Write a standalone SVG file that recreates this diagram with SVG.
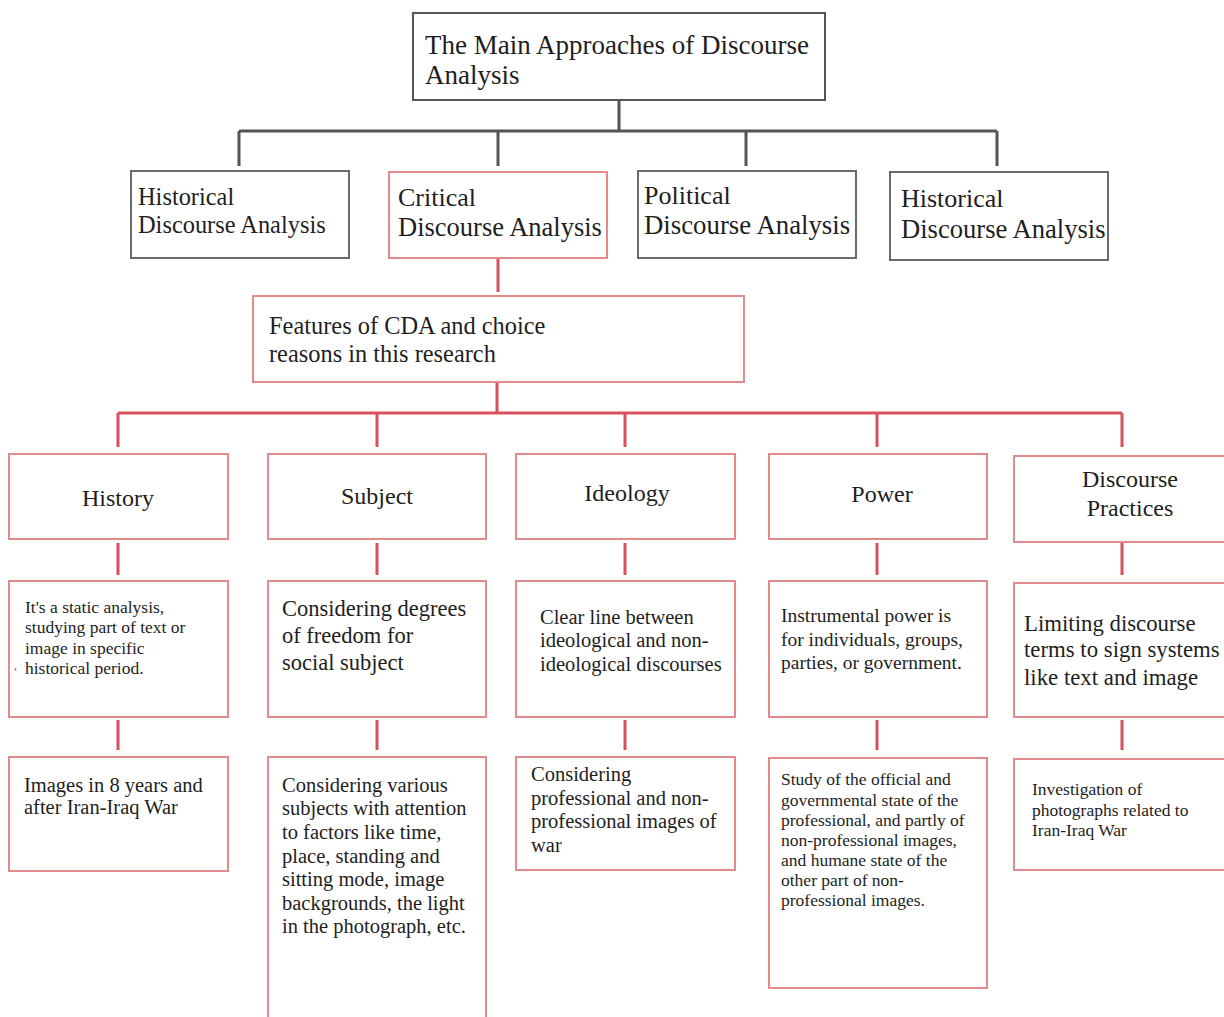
<svg xmlns="http://www.w3.org/2000/svg" width="1224" height="1017" viewBox="0 0 1224 1017" font-family="Liberation Serif, Times New Roman, serif">
<style>
text{fill:#1e1e1e}
.g{fill:#fff;stroke:#6a6a6a;stroke-width:2}
.r{fill:#fff;stroke:#e38a8d;stroke-width:2}
.cg{stroke:#555;stroke-width:3;fill:none}
.cr{stroke:#d9505c;stroke-width:3;fill:none}
.c{text-anchor:middle}
</style>
<rect width="1224" height="1017" fill="#fff"/>
<g id="connectors">
<path class="cg" d="M619 100V131M239 131H997M239 131V166M498 131V166M746 131V166M997 131V166"/>
<path class="cr" d="M498 258V292M497 382V413M118 413H1122M118 413V447M377 413V447M625 413V447M877 413V447M1122 413V447"/>
<path class="cr" d="M118 543V575M377 543V575M625 543V575M877 543V575M1122 543V575"/>
<path class="cr" d="M118 720V750M377 720V750M625 720V750M877 720V750M1122 720V750"/>
</g>
<g id="root"><rect class="g" x="413" y="13" width="412" height="87" style="stroke:#555"/>
<text x="425" y="54" font-size="27">The Main Approaches of Discourse</text>
<text x="425" y="84" font-size="27">Analysis</text></g>
<g id="hda1"><rect class="g" x="131" y="171" width="218" height="87"/>
<text x="138" y="205" font-size="24.4">Historical</text><text x="138" y="233" font-size="24.4">Discourse Analysis</text></g>
<g id="cda"><rect class="r" x="389" y="172" width="218" height="86"/>
<text x="398" y="206" font-size="26">Critical</text><text x="398" y="236" font-size="26.5">Discourse Analysis</text></g>
<g id="pda"><rect class="g" x="638" y="171" width="218" height="87"/>
<text x="644" y="204" font-size="26">Political</text><text x="644" y="234" font-size="26.8">Discourse Analysis</text></g>
<g id="hda2"><rect class="g" x="890" y="172" width="218" height="88"/>
<text x="901" y="207" font-size="26">Historical</text><text x="901" y="238" font-size="26.6">Discourse Analysis</text></g>
<g id="features"><rect class="r" x="253" y="296" width="491" height="86"/>
<text x="269" y="334" font-size="24.4">Features of CDA and choice</text><text x="269" y="362" font-size="24.4">reasons in this research</text></g>
<g id="history"><rect class="r" x="9" y="454" width="219" height="85"/><text class="c" x="118" y="506" font-size="24">History</text></g>
<g id="subject"><rect class="r" x="268" y="454" width="218" height="85"/><text class="c" x="377" y="504" font-size="24">Subject</text></g>
<g id="ideology"><rect class="r" x="516" y="454" width="219" height="85"/><text class="c" x="627" y="501" font-size="24">Ideology</text></g>
<g id="power"><rect class="r" x="769" y="454" width="218" height="85"/><text class="c" x="882" y="502" font-size="24">Power</text></g>
<g id="practices"><rect class="r" x="1014" y="456" width="220" height="86"/><text class="c" x="1130" y="487" font-size="24">Discourse</text><text class="c" x="1130" y="516" font-size="24">Practices</text></g>
<g id="history-f"><rect class="r" x="9" y="581" width="219" height="136"/>
<text x="14" y="671" font-size="9">‹</text>
<g font-size="17.5"><text x="25" y="613">It's a static analysis,</text><text x="25" y="633">studying part of text or</text><text x="25" y="654">image in specific</text><text x="25" y="674">historical period.</text></g></g>
<g id="subject-f"><rect class="r" x="268" y="581" width="218" height="136"/>
<g font-size="22.5"><text x="282" y="616">Considering degrees</text><text x="282" y="643">of freedom for</text><text x="282" y="670">social subject</text></g></g>
<g id="ideology-f"><rect class="r" x="516" y="581" width="219" height="136"/>
<g font-size="20.5"><text x="540" y="624">Clear line between</text><text x="540" y="647">ideological and non-</text><text x="540" y="671">ideological discourses</text></g></g>
<g id="power-f"><rect class="r" x="769" y="581" width="218" height="136"/>
<g font-size="19.5"><text x="781" y="622">Instrumental power is</text><text x="781" y="646">for individuals, groups,</text><text x="781" y="669">parties, or government.</text></g></g>
<g id="practices-f"><rect class="r" x="1014" y="583" width="220" height="134"/>
<g font-size="22.8"><text x="1024" y="631">Limiting discourse</text><text x="1024" y="657">terms to sign systems</text><text x="1024" y="685">like text and image</text></g></g>
<g id="history-e"><rect class="r" x="9" y="757" width="219" height="114"/>
<g font-size="20.5"><text x="24" y="792">Images in 8 years and</text><text x="24" y="814">after Iran-Iraq War</text></g></g>
<g id="subject-e"><rect class="r" x="268" y="757" width="218" height="268"/>
<g font-size="20.5"><text x="282" y="792">Considering various</text><text x="282" y="815">subjects with attention</text><text x="282" y="839">to factors like time,</text><text x="282" y="863">place, standing and</text><text x="282" y="886">sitting mode, image</text><text x="282" y="910">backgrounds, the light</text><text x="282" y="933">in the photograph, etc.</text></g></g>
<g id="ideology-e"><rect class="r" x="516" y="757" width="219" height="113"/>
<g font-size="20.5"><text x="531" y="781">Considering</text><text x="531" y="805">professional and non-</text><text x="531" y="828">professional images of</text><text x="531" y="852">war</text></g></g>
<g id="power-e"><rect class="r" x="769" y="758" width="218" height="230"/>
<g font-size="17.5"><text x="781" y="785">Study of the official and</text><text x="781" y="806">governmental state of the</text><text x="781" y="826">professional, and partly of</text><text x="781" y="846">non-professional images,</text><text x="781" y="866">and humane state of the</text><text x="781" y="886">other part of non-</text><text x="781" y="906">professional images.</text></g></g>
<g id="practices-e"><rect class="r" x="1014" y="759" width="220" height="111"/>
<g font-size="17.5"><text x="1032" y="795">Investigation of</text><text x="1032" y="816">photographs related to</text><text x="1032" y="836">Iran-Iraq War</text></g></g>
</svg>
